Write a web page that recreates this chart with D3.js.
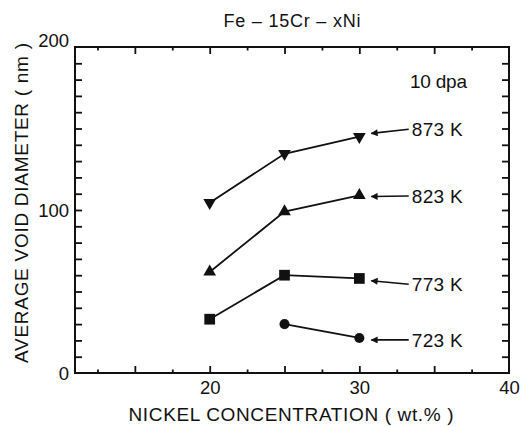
<!DOCTYPE html>
<html>
<head>
<meta charset="utf-8">
<script src="https://cdn.jsdelivr.net/npm/d3@7"></script>
<style>
  body { margin: 0; background: #fff; }
  text { font-family: "Liberation Sans", Arial, Helvetica, sans-serif; fill: #111; }
</style>
</head>
<body>
<script>
// nickel content (wt.%) and mean void diameter (nm) at 10 dpa
const temps = ["873 K", "823 K", "773 K", "723 K"];
const shapes = ["down", "up", "square", "circle"];
const nickel873 = [20, 25, 30];
const diam873 = [104.5, 134.5, 145];
const nickel823 = [20, 25, 30];
const diam823 = [62, 99, 109];
const nickel773 = [20, 25, 30];
const diam773 = [33, 60, 58];
const nickel723 = [25, 30];
const diam723 = [30, 21.5];

// arrow labels (arrow tip / tail in data units)
const labelTipY = [147, 108.3, 56.6, 20.3];
const labelTailY = [149.5, 108.6, 54.4, 20.3];
const labelTipX = 30.8, labelTailX = 33.3;

const xTicksMajor = [15, 20, 25, 30, 35];
const xTicksMinor = [12.5, 17.5, 22.5, 27.5, 32.5, 37.5];
const xLabels = [20, 30, 40];
const yTicks = d3.range(10, 200, 10);
const yLabels = [0, 100, 200];

const W = 520, H = 427;
const plotL = 75, plotR = 509, plotT = 47, plotB = 373;

const svg = d3.select("body").append("svg")
    .attr("width", W)
    .attr("height", H);

const x = d3.scaleLinear().domain([11, 40]).range([plotL, plotR]);
const y = d3.scaleLinear().domain([0, 200]).range([plotB, plotT]);

function noDomain(g) { g.select(".domain").remove(); }

// inward ticks on all four sides
svg.append("g").attr("transform", "translate(0," + plotB + ")")
    .call(d3.axisTop(x).tickValues(xTicksMajor).tickSize(7).tickFormat(""))
    .call(noDomain);
svg.append("g").attr("transform", "translate(0," + plotB + ")")
    .call(d3.axisTop(x).tickValues(xTicksMinor).tickSize(3.5).tickFormat(""))
    .call(noDomain);
svg.append("g").attr("transform", "translate(0," + plotT + ")")
    .call(d3.axisBottom(x).tickValues(xTicksMajor).tickSize(7).tickFormat(""))
    .call(noDomain);
svg.append("g").attr("transform", "translate(0," + plotT + ")")
    .call(d3.axisBottom(x).tickValues(xTicksMinor).tickSize(3.5).tickFormat(""))
    .call(noDomain);
svg.append("g").attr("transform", "translate(" + plotL + ",0)")
    .call(d3.axisRight(y).tickValues(yTicks).tickSize(7).tickFormat(""))
    .call(noDomain);
svg.append("g").attr("transform", "translate(" + plotR + ",0)")
    .call(d3.axisLeft(y).tickValues(yTicks).tickSize(7).tickFormat(""))
    .call(noDomain);
svg.selectAll(".tick line").attr("stroke", "#111").attr("stroke-width", 1.8);

// tick labels
const xl = svg.append("g").attr("transform", "translate(0," + plotB + ")")
    .call(d3.axisBottom(x).tickValues(xLabels).tickSize(0).tickPadding(8))
    .call(noDomain);
xl.selectAll("text").attr("font-size", 18.5).attr("font-family", null);

const yl = svg.append("g").attr("transform", "translate(" + plotL + ",0)")
    .call(d3.axisLeft(y).tickValues(yLabels).tickSize(0).tickPadding(6))
    .call(noDomain);
yl.selectAll("text").attr("font-size", 18.5).attr("font-family", null)
    .attr("dy", d => d === 200 ? "-0.05em" : "0.36em");

// frame
svg.append("rect")
    .attr("x", plotL).attr("y", plotT)
    .attr("width", plotR - plotL).attr("height", plotB - plotT)
    .attr("fill", "none").attr("stroke", "#111").attr("stroke-width", 2);

// series
const series = [
  { xs: nickel873, ys: diam873 },
  { xs: nickel823, ys: diam823 },
  { xs: nickel773, ys: diam773 },
  { xs: nickel723, ys: diam723 }
];

const line = d3.line().x(d => x(d[0])).y(d => y(d[1]));

series.forEach(function(s, i) {
  const pts = s.xs.map((v, k) => [v, s.ys[k]]);
  svg.append("path")
      .attr("d", line(pts))
      .attr("fill", "none")
      .attr("stroke", "#111")
      .attr("stroke-width", 1.8);

  let sym;
  if (shapes[i] === "square") sym = d3.symbol(d3.symbolSquare, 115);
  else if (shapes[i] === "circle") sym = d3.symbol(d3.symbolCircle, 80);
  else sym = d3.symbol(d3.symbolTriangle, 70);

  svg.selectAll(null)
      .data(pts)
      .enter()
      .append("path")
      .attr("d", sym())
      .attr("fill", "#111")
      .attr("transform", d => "translate(" + x(d[0]) + "," + y(d[1]) + ")" +
                              (shapes[i] === "down" ? " rotate(180)" : ""));
});

// arrows with temperature labels
svg.append("defs").append("marker")
    .attr("id", "head")
    .attr("viewBox", "0 0 10 10")
    .attr("refX", 1).attr("refY", 5)
    .attr("markerWidth", 9).attr("markerHeight", 7)
    .attr("markerUnits", "userSpaceOnUse")
    .attr("orient", "auto")
    .append("path")
    .attr("d", "M0,5 L10,0 L10,10 Z")
    .attr("fill", "#111");

temps.forEach(function(t, i) {
  svg.append("line")
      .attr("x1", x(labelTipX)).attr("y1", y(labelTipY[i]))
      .attr("x2", x(labelTailX)).attr("y2", y(labelTailY[i]))
      .attr("stroke", "#111").attr("stroke-width", 1.6)
      .attr("marker-start", "url(#head)");
  svg.append("text")
      .attr("x", x(labelTailX) + 3)
      .attr("y", y(labelTailY[i]))
      .attr("dy", "0.36em")
      .attr("font-size", 19)
      .attr("textLength", 51)
      .text(t);
});

// titles
svg.append("text")
    .attr("x", 292).attr("y", 27)
    .attr("text-anchor", "middle")
    .attr("font-size", 18)
    .attr("textLength", 137)
    .text("Fe \u2013 15Cr \u2013 xNi");

svg.append("text")
    .attr("x", 410).attr("y", 88)
    .attr("font-size", 19)
    .attr("textLength", 57)
    .text("10 dpa");

svg.append("text")
    .attr("x", 291).attr("y", 421)
    .attr("text-anchor", "middle")
    .attr("font-size", 19)
    .attr("textLength", 325)
    .text("NICKEL CONCENTRATION ( wt.% )");

svg.append("text")
    .attr("transform", "translate(28,203) rotate(-90)")
    .attr("text-anchor", "middle")
    .attr("font-size", 19)
    .attr("textLength", 320)
    .text("AVERAGE VOID DIAMETER ( nm )");
</script>
</body>
</html>
